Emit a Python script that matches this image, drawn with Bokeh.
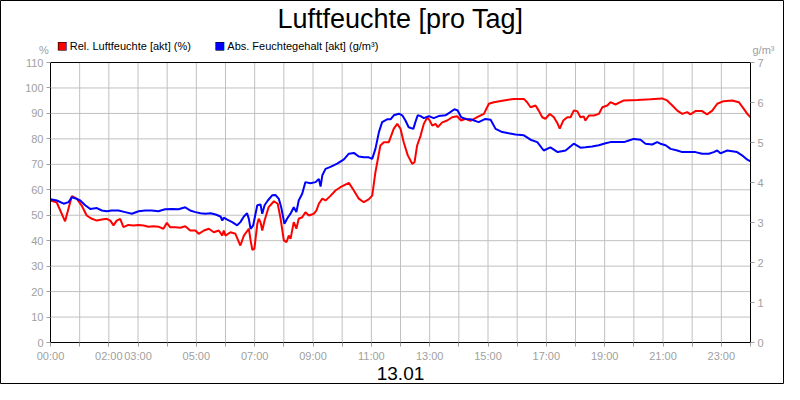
from bokeh.plotting import figure
from bokeh.models import LinearAxis, Range1d, FixedTicker, Label
from bokeh.embed import file_html
from bokeh.resources import INLINE

# Time in hours of day 13.01
rel_t = [0.0, 0.21, 0.50, 0.73, 0.90, 1.07, 1.24, 1.42, 1.59, 1.76, 1.93, 2.05, 2.16, 2.27, 2.39,
         2.50, 2.67, 2.85, 3.02, 3.19, 3.36, 3.53, 3.70, 3.87, 3.99, 4.10, 4.28, 4.45, 4.62, 4.79,
         4.97, 5.08, 5.26, 5.43, 5.60, 5.77, 5.89, 5.94, 6.00, 6.17, 6.34, 6.51, 6.63, 6.80, 6.86,
         6.92, 6.99, 7.09, 7.14, 7.20, 7.26, 7.34, 7.48, 7.66, 7.79, 7.89, 8.00, 8.09, 8.17, 8.23,
         8.34, 8.43, 8.51, 8.63, 8.74, 8.86, 9.03, 9.12, 9.20, 9.32, 9.43, 9.60, 9.77, 9.94, 10.23,
         10.40, 10.57, 10.74, 10.91, 11.03, 11.14, 11.31, 11.43, 11.60, 11.77, 11.89, 12.00, 12.11,
         12.25, 12.40, 12.48, 12.57, 12.69, 12.80, 12.92, 13.00, 13.09, 13.20, 13.28, 13.43, 13.60,
         13.77, 13.94, 14.08, 14.23, 14.40, 14.63, 14.86, 15.03, 15.20, 15.54, 15.88, 16.23, 16.34,
         16.46, 16.63, 16.74, 16.86, 16.97, 17.12, 17.26, 17.39, 17.46, 17.58, 17.72, 17.83, 17.94,
         18.06, 18.17, 18.28, 18.34, 18.46, 18.63, 18.80, 18.92, 19.09, 19.20, 19.37, 19.66, 20.12,
         20.57, 20.97, 21.14, 21.32, 21.49, 21.66, 21.83, 21.94, 22.11, 22.34, 22.51, 22.69, 22.86,
         23.08, 23.37, 23.60, 23.77, 23.89, 24.00]
rel_hum = [55.8, 55.1, 47.6, 57.5, 56.5, 53.8, 49.9, 48.6, 47.9, 48.3, 48.6, 47.9, 46.0, 47.9, 48.6,
           45.3, 46.2, 46.0, 46.2, 46.0, 45.5, 45.7, 45.5, 44.7, 47.0, 45.3, 45.3, 45.1, 45.7, 44.0,
           44.0, 42.7, 44.0, 44.7, 43.3, 44.0, 42.0, 44.0, 42.0, 43.3, 42.7, 38.1, 42.0, 44.7, 40.1,
           36.4, 36.8, 46.6, 48.6, 47.3, 44.0, 47.9, 53.2, 55.5, 54.5, 48.6, 40.1, 39.4, 42.0, 40.7,
           47.3, 44.7, 48.6, 49.2, 51.2, 49.9, 50.6, 51.9, 54.5, 56.5, 55.8, 57.6, 59.7, 61.0, 62.7,
           59.7, 56.5, 55.1, 56.2, 57.7, 66.9, 77.4, 78.7, 78.7, 84.0, 85.9, 84.0, 78.7,
           73.5, 70.2, 70.8, 77.4, 81.3, 85.9, 88.5, 87.2, 85.2, 85.9, 84.6, 86.5, 87.2,
           88.5, 88.9, 87.2, 87.9, 87.1, 88.5, 89.8, 93.8, 94.4, 95.1, 95.7, 95.7, 94.4,
           92.4, 93.1, 91.1, 88.5, 87.9, 89.8, 88.5, 85.9, 84.0, 87.2, 88.5, 88.5, 91.1,
           90.9, 88.5, 88.8, 87.2, 89.2, 89.2, 89.8, 92.4, 93.1, 94.4, 93.5, 95.1, 95.3,
           95.6, 95.9, 95.1, 93.1, 91.1, 89.8, 90.5, 89.6, 90.9, 90.9, 89.6, 91.1, 93.8,
           94.8, 95.1, 94.4, 91.8, 89.8, 88.5]

abs_t = [0.0, 0.22, 0.45, 0.62, 0.73, 0.90, 1.02, 1.19, 1.36, 1.59, 1.76, 1.93, 2.10, 2.33, 2.56,
         2.79, 3.02, 3.25, 3.47, 3.70, 3.93, 4.16, 4.39, 4.62, 4.79, 4.97, 5.14, 5.31, 5.49, 5.66,
         5.83, 5.89, 5.94, 6.06, 6.23, 6.40, 6.51, 6.63, 6.74, 6.80, 6.86, 6.95, 7.03, 7.09, 7.20,
         7.26, 7.34, 7.45, 7.60, 7.71, 7.83, 7.91, 8.02, 8.14, 8.23, 8.34, 8.43, 8.51, 8.63, 8.74,
         8.91, 9.09, 9.20, 9.26, 9.32, 9.43, 9.60, 9.83, 10.06, 10.23, 10.40, 10.57, 10.74, 10.91,
         11.03, 11.14, 11.26, 11.37, 11.54, 11.66, 11.77, 11.94, 12.06, 12.17, 12.28, 12.44, 12.51,
         12.59, 12.69, 12.80, 12.97, 13.14, 13.31, 13.54, 13.71, 13.85, 13.96, 14.08, 14.23, 14.40,
         14.68, 14.91, 15.09, 15.26, 15.49, 15.71, 15.94, 16.23, 16.46, 16.69, 16.91, 17.14, 17.39,
         17.66, 17.94, 18.17, 18.34, 18.57, 18.80, 19.03, 19.20, 19.43, 19.66, 19.83, 20.00, 20.23,
         20.40, 20.63, 20.80, 20.91, 21.09, 21.26, 21.49, 21.66, 21.88, 22.11, 22.34, 22.57, 22.74,
         22.86, 22.97, 23.20, 23.37, 23.54, 23.71, 23.89, 24.00]
abs_hum = [3.58, 3.55, 3.47, 3.51, 3.63, 3.59, 3.55, 3.43, 3.34, 3.36, 3.30, 3.28, 3.30, 3.30, 3.26,
           3.22, 3.28, 3.30, 3.30, 3.28, 3.33, 3.34, 3.33, 3.38, 3.30, 3.26, 3.23, 3.22, 3.23, 3.20,
           3.15, 3.05, 3.12, 3.07, 3.01, 2.93, 3.01, 3.15, 3.23, 3.09, 2.84, 2.93, 3.22, 3.43, 3.45,
           3.22, 3.43, 3.55, 3.68, 3.69, 3.59, 3.38, 2.97, 3.13, 3.22, 3.38, 3.26, 3.55, 3.72, 4.01,
           3.98, 4.01, 4.09, 3.90, 4.18, 4.34, 4.39, 4.47, 4.58, 4.72, 4.74, 4.65, 4.63, 4.63,
           4.59, 4.84, 5.26, 5.51, 5.58, 5.58, 5.68, 5.72, 5.68, 5.55, 5.38, 5.34, 5.51,
           5.68, 5.66, 5.61, 5.66, 5.61, 5.66, 5.68, 5.76, 5.83, 5.80, 5.63, 5.59, 5.58,
           5.51, 5.59, 5.57, 5.34, 5.26, 5.23, 5.20, 5.18, 5.07, 5.01, 4.80, 4.88, 4.76,
           4.80, 4.97, 4.87, 4.88, 4.90, 4.93, 4.98, 5.01, 5.01, 5.01, 5.05, 5.09, 5.07,
           4.97, 4.95, 5.01, 4.97, 4.93, 4.84, 4.80, 4.76, 4.76, 4.76, 4.72, 4.72, 4.76,
           4.80, 4.73, 4.80, 4.78, 4.76, 4.68, 4.57, 4.53]

hour_ticks = list(range(25))
labelled_hours = [0, 2, 3, 5, 7, 9, 11, 13, 15, 17, 19, 21, 23]
left_ticks = [0, 10, 20, 30, 40, 50, 60, 70, 80, 90, 100, 110]
right_ticks = [0, 1, 2, 3, 4, 5, 6, 7]

title_text = "Luftfeuchte [pro Tag]"
date_text = "13.01"
rel_name = "Rel. Luftfeuchte [akt] (%)"
abs_name = "Abs. Feuchtegehalt [akt] (g/m³)"
left_unit = "%"
right_unit = "g/m³"

FONT = "Liberation Sans"
GREY = "#a0a0a0"
GRID = "#c0c0c0"

# canvas size and the pixel box of the plotting area inside it
W, H = 784, 384
FL, FR, FT, FB = 50, 750, 62, 342
X0, X1 = 0, 24       # hours
Y0, Y1 = 0, 110      # %
A0, A1 = 0, 7        # g/m3

kx = (X1 - X0) / (FR - FL)
ky = (Y1 - Y0) / (FB - FT)
ka = (A1 - A0) / (FB - FT)

p = figure(width=W, height=H, output_backend="svg", toolbar_location=None, title=None,
           x_range=Range1d(X0 - FL * kx, X1 + (W - FR) * kx),
           y_range=Range1d(Y0 - (H - FB) * ky, Y1 + FT * ky))
p.extra_y_ranges = {"abs": Range1d(A0 - (H - FB) * ka, A1 + FT * ka)}
p.min_border = 0
p.min_border_left = 0
p.min_border_right = 0
p.min_border_top = 0
p.min_border_bottom = 0
p.outline_line_color = "black"
p.background_fill_color = "white"
p.border_fill_color = "white"
p.xgrid.visible = False
p.ygrid.visible = False

xa = p.xaxis[0]
xa.fixed_location = Y0
xa.bounds = (X0, X1)
xa.ticker = FixedTicker(ticks=hour_ticks)
xa.major_label_overrides = {h: ("%02d:00" % h if h in labelled_hours else "") for h in hour_ticks}

ya = p.yaxis[0]
ya.fixed_location = X0
ya.bounds = (Y0, Y1)
ya.ticker = FixedTicker(ticks=left_ticks)

ra = LinearAxis(y_range_name="abs", ticker=FixedTicker(ticks=right_ticks),
                fixed_location=X1, bounds=(A0, A1))
p.add_layout(ra, "right")

for ax in [xa, ya, ra]:
    ax.axis_line_color = "black"
    ax.axis_line_width = 1
    ax.major_tick_line_color = GREY
    ax.major_tick_out = 4
    ax.major_tick_in = 0
    ax.minor_tick_line_color = None
    ax.major_label_text_color = GREY
    ax.major_label_text_font = FONT
    ax.major_label_text_font_size = "11px"
    ax.major_label_standoff = 3

# grid lines at the tick positions, limited to the plotting area
p.segment(x0=hour_ticks, y0=[Y0] * len(hour_ticks), x1=hour_ticks, y1=[Y1] * len(hour_ticks),
          line_color=GRID, line_width=1, level="underlay")
p.segment(x0=[X0] * len(left_ticks), y0=left_ticks, x1=[X1] * len(left_ticks), y1=left_ticks,
          line_color=GRID, line_width=1, level="underlay")
# top edge of the plotting area
p.segment(x0=[X0], y0=[Y1], x1=[X1], y1=[Y1], line_color="black", line_width=1)

p.line(rel_t, rel_hum, line_color="#ff0000", line_width=2)
p.line(abs_t, abs_hum, line_color="#0000ff", line_width=2, y_range_name="abs")


def px_label(px, py, text, size, color, align="left", font=FONT):
    # position given in canvas pixels, converted to data units of the main ranges
    x = X0 + (px - FL) * kx
    y = Y0 + (FB - py) * ky
    p.add_layout(Label(x=x, y=y, text=text, text_font=font, text_font_size=size,
                       text_align=align, text_baseline="middle", text_color=color))


px_label(400, 18, title_text, "27px", "black", "center")
px_label(400, 373, date_text, "19px", "black", "center")
px_label(43.5, 49.5, left_unit, "11px", GREY, "center")
px_label(763, 49, right_unit, "11px", GREY, "center")
for sx, col, name in [(61.7, "#ff0000", rel_name), (219.2, "#0000ff", abs_name)]:
    px_label(sx, 44.5, "■", "11px", col, "center", "DejaVu Sans")
    px_label(sx, 44.5, "□", "11px", "black", "center", "DejaVu Sans")
    px_label(sx + 7.6, 45, name, "11px", "black", "left")

open("out.html", "w").write(file_html(p, INLINE))
